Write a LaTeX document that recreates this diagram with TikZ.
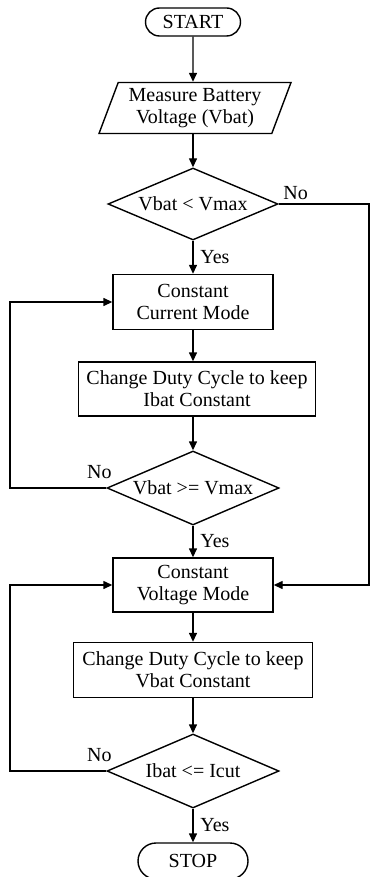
\documentclass[tikz,border=0pt]{standalone}
\usepackage{fontspec}
\setmainfont{Liberation Serif}
\usetikzlibrary{shapes.geometric,shapes.misc,arrows.meta}

\begin{document}
\begin{tikzpicture}[>={Triangle[length=4.5pt,width=4pt]},x=0.5pt,y=-0.5pt,line width=0.7pt,
  every node/.style={font=\fontsize{10}{11}\selectfont},
  term/.style={draw,rounded rectangle,inner sep=0pt},
  inout/.style={draw,trapezium,trapezium left angle=64,trapezium right angle=116,
    trapezium stretches body,minimum width=96pt,minimum height=25.5pt,inner sep=0pt,align=center},
  proc/.style={draw,rectangle,align=center,inner sep=0pt,minimum height=27.5pt},
  test/.style={draw,diamond,aspect=2.3,inner sep=0pt,minimum width=86pt,minimum height=37pt},
  flow/.style={->}]
  % Page
  \useasboundingbox (0,0) rectangle (370,877);
  %
  % Configurable parameters
  \def\mid{193}
  \def\farleft{10}
  \def\farright{369}
  %
  % Blocks
  \node[term,minimum width=47.5pt,minimum height=14pt] (start) at (\mid,22) {START};
  \node[inout] (measure) at (\mid+2,108) {Measure Battery\\Voltage (Vbat)};
  \node[test,minimum width=85pt,minimum height=36pt] (vmax) at (\mid,204) {Vbat < Vmax};
  \node[proc,minimum width=80pt] (cc) at (\mid,302) {Constant\\Current Mode};
  \node[proc,minimum width=118.5pt,minimum height=27pt] (dutyi) at (\mid+4,389)
    {Change Duty Cycle to keep\\Ibat Constant};
  \node[test] (vfull) at (\mid,488) {Vbat >= Vmax};
  \node[proc,minimum width=80pt,minimum height=27pt] (cv) at (\mid,585) {Constant\\Voltage Mode};
  \node[proc,minimum width=119.5pt] (dutyv) at (\mid,670)
    {Change Duty Cycle to keep\\Vbat Constant};
  \node[test] (icut) at (\mid,771) {Ibat <= Icut};
  \node[term,minimum width=55pt,minimum height=18pt] (stop) at (\mid,861) {STOP};
  %
  % Helper points
  \coordinate (rtop) at (\farright,204);
  \coordinate (rbot) at (\farright,585);
  \coordinate (ltop1) at (\farleft,302);
  \coordinate (lbot1) at (\farleft,488);
  \coordinate (ltop2) at (\farleft,585);
  \coordinate (lbot2) at (\farleft,771);
  %
  % Main flow
  \draw[flow] (start) -- (start |- measure.north);
  \draw[flow] (start |- measure.south) -- (vmax);
  \draw[flow] (vmax) -- node[right] {Yes} (cc);
  \draw[flow] (cc) -- (cc |- dutyi.north);
  \draw[flow] (cc |- dutyi.south) -- (vfull);
  \draw[flow] (vfull) -- node[right] {Yes} (cv);
  \draw[flow] (cv) -- (dutyv);
  \draw[flow] (dutyv) -- (icut);
  \draw[flow] (icut) -- node[right] {Yes} (stop);
  %
  % Loops
  \draw[flow] (vmax.east) -- (rtop) -- (rbot) -- (cv.east);
  \draw[flow] (vfull.west) -- (lbot1) -- (ltop1) -- (cc.west);
  \draw[flow] (icut.west) -- (lbot2) -- (ltop2) -- (cv.west);
  %
  % Labels
  \node[above right,inner sep=2pt] (novmax) at (vmax.east) {No};
  \node[above left,inner sep=2pt,xshift=5pt,yshift=2.5pt] (novfull) at (vfull.west) {No};
  \node[above left,inner sep=2pt,xshift=5pt,yshift=2.5pt] (noicut) at (icut.west) {No};
  %
\end{tikzpicture}
\end{document}
